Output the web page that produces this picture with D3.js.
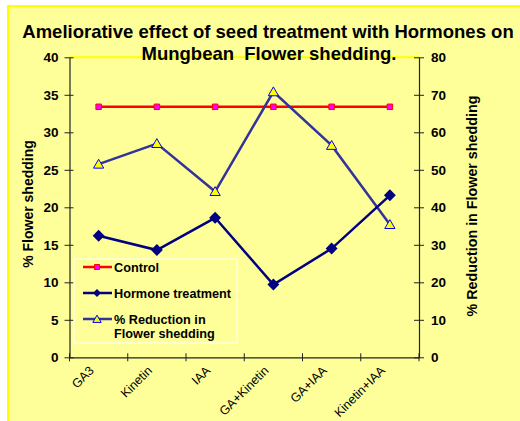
<!DOCTYPE html>
<html>
<head>
<meta charset="utf-8">
<script src="https://cdn.jsdelivr.net/npm/d3@7"></script>
<style>
  body { margin: 0; background: #ffffff; }
  text { font-family: "Liberation Sans", Arial, sans-serif; }
</style>
</head>
<body>
<div id="vis"></div>
<script>
var width = 520;
var height = 421;

// data
var treatments = ['GA3', 'Kinetin', 'IAA', 'GA+Kinetin', 'GA+IAA', 'Kinetin+IAA'];
var control = [33.4, 33.4, 33.4, 33.4, 33.4, 33.4];
var hormone = [16.2, 14.3, 18.6, 9.7, 14.5, 21.6];
var reduction = [51.5, 57.0, 44.2, 70.8, 56.5, 35.4];
var leftTicks = [0, 5, 10, 15, 20, 25, 30, 35, 40];
var rightTicks = [0, 10, 20, 30, 40, 50, 60, 70, 80];

var plot = { left: 69.5, right: 419, top: 57.3, bottom: 357.3 };

var svg = d3.select('#vis')
    .append('svg')
    .attr('width', width)
    .attr('height', height);

// chart background
svg.append('rect')
    .attr('x', 8)
    .attr('y', 6)
    .attr('width', width)
    .attr('height', height)
    .attr('fill', '#ffff99')
    .attr('stroke', '#ffff00')
    .attr('stroke-width', 2);

// plot area top border
svg.append('line')
    .attr('x1', plot.left)
    .attr('x2', plot.right)
    .attr('y1', plot.top)
    .attr('y2', plot.top)
    .attr('stroke', '#ffff00')
    .attr('stroke-width', 2);

var x_scale = d3.scaleBand()
    .domain(treatments)
    .range([plot.left, plot.right]);

var y_left = d3.scaleLinear()
    .domain([0, 40])
    .range([plot.bottom, plot.top]);

var y_right = d3.scaleLinear()
    .domain([0, 80])
    .range([plot.bottom, plot.top]);

function cx(d, i) {
    return x_scale(treatments[i]) + x_scale.bandwidth() / 2;
}

// axes
var left_axis = d3.axisLeft(y_left).tickValues(leftTicks).tickSizeInner(4).tickSizeOuter(0).tickPadding(7);
var right_axis = d3.axisRight(y_right).tickValues(rightTicks).tickSizeInner(4).tickSizeOuter(0).tickPadding(8);
var bottom_axis = d3.axisBottom(x_scale).tickValues([]).tickSizeOuter(0);

var gl = svg.append('g')
    .attr('class', 'y axis')
    .attr('transform', 'translate(' + plot.left + ',0)')
    .call(left_axis);

var gr = svg.append('g')
    .attr('class', 'y axis')
    .attr('transform', 'translate(' + plot.right + ',0)')
    .call(right_axis);

var gb = svg.append('g')
    .attr('class', 'x axis')
    .attr('transform', 'translate(0,' + plot.bottom + ')')
    .call(bottom_axis);

// crossing ticks on all axes
gl.selectAll('.tick line').attr('x1', 4).attr('x2', -5);
gr.selectAll('.tick line').attr('x1', -5).attr('x2', 5);

var xTickPos = d3.range(treatments.length + 1).map(function(i) {
    return plot.left + i * x_scale.step();
});
gb.selectAll('.xtick')
    .data(xTickPos)
    .enter()
    .append('line')
    .attr('x1', function(d) { return d; })
    .attr('x2', function(d) { return d; })
    .attr('y1', -4)
    .attr('y2', 4)
    .attr('stroke', '#222');

svg.selectAll('.axis path').attr('stroke', '#222').attr('stroke-width', 1.2);
svg.selectAll('.axis .tick line').attr('stroke', '#222');
svg.selectAll('.y.axis text')
    .attr('font-size', 13.5)
    .attr('font-weight', 'bold')
    .attr('fill', '#000');

// category labels
svg.selectAll('.xlabel')
    .data(treatments)
    .enter()
    .append('text')
    .attr('class', 'xlabel')
    .attr('text-anchor', 'end')
    .attr('font-size', 12.5)
    .attr('transform', function(d, i) {
        return 'translate(' + (cx(d, i) - 4) + ',' + (plot.bottom + 14) + ') rotate(-45)';
    })
    .text(function(d) { return d; });

// titles
svg.append('text')
    .attr('x', 268)
    .attr('y', 38)
    .attr('text-anchor', 'middle')
    .attr('font-size', 18.5)
    .attr('font-weight', 'bold')
    .text('Ameliorative effect of seed treatment with Hormones on');

svg.append('text')
    .attr('x', 269)
    .attr('y', 60)
    .attr('text-anchor', 'middle')
    .attr('font-size', 18.5)
    .attr('font-weight', 'bold')
    .text('Mungbean  Flower shedding.')
    .style('white-space', 'pre');

svg.append('text')
    .attr('text-anchor', 'middle')
    .attr('font-size', 14)
    .attr('font-weight', 'bold')
    .attr('transform', 'translate(33,204) rotate(-90)')
    .text('% Flower shedding');

svg.append('text')
    .attr('text-anchor', 'middle')
    .attr('font-size', 14.3)
    .attr('font-weight', 'bold')
    .attr('transform', 'translate(477,206) rotate(-90)')
    .text('% Reduction in Flower shedding');

// series
var line_left = d3.line()
    .x(cx)
    .y(function(d) { return y_left(d); });

var line_right = d3.line()
    .x(cx)
    .y(function(d) { return y_right(d); });

svg.append('path')
    .datum(control)
    .attr('d', line_left)
    .attr('fill', 'none')
    .attr('stroke', '#ff0000')
    .attr('stroke-width', 2.5);

svg.append('path')
    .datum(reduction)
    .attr('d', line_right)
    .attr('fill', 'none')
    .attr('stroke', '#333399')
    .attr('stroke-width', 2.5);

svg.append('path')
    .datum(hormone)
    .attr('d', line_left)
    .attr('fill', 'none')
    .attr('stroke', '#000080')
    .attr('stroke-width', 2.5);

var square = d3.symbol().type(d3.symbolSquare).size(30);
var diamond = d3.symbol().type(d3.symbolDiamond2).size(90);
var triangle = d3.symbol().type(d3.symbolTriangle2).size(75);

svg.selectAll('.ctrl')
    .data(control)
    .enter()
    .append('path')
    .attr('class', 'ctrl')
    .attr('d', square)
    .attr('transform', function(d, i) { return 'translate(' + cx(d, i) + ',' + y_left(d) + ')'; })
    .attr('fill', '#ff00ff')
    .attr('stroke', '#ff0000')
    .attr('stroke-width', 1);

svg.selectAll('.horm')
    .data(hormone)
    .enter()
    .append('path')
    .attr('class', 'horm')
    .attr('d', diamond)
    .attr('transform', function(d, i) { return 'translate(' + cx(d, i) + ',' + y_left(d) + ')'; })
    .attr('fill', '#000080');

svg.selectAll('.red')
    .data(reduction)
    .enter()
    .append('path')
    .attr('class', 'red')
    .attr('d', triangle)
    .attr('transform', function(d, i) { return 'translate(' + cx(d, i) + ',' + (y_right(d) + 1) + ')'; })
    .attr('fill', '#ffff00')
    .attr('stroke', '#0000ff')
    .attr('stroke-width', 1);

// legend
var legend = svg.append('g');

legend.append('rect')
    .attr('x', 74)
    .attr('y', 259)
    .attr('width', 163)
    .attr('height', 84)
    .attr('fill', 'none')
    .attr('stroke', '#ffffff')
    .attr('stroke-width', 1);

var legendItems = [
    { name: 'Control', color: '#ff0000', y: 267 },
    { name: 'Hormone treatment', color: '#000080', y: 293 },
    { name: '% Reduction in', color: '#333399', y: 319 }
];

legend.selectAll('.lline')
    .data(legendItems)
    .enter()
    .append('line')
    .attr('x1', 83)
    .attr('x2', 112)
    .attr('y1', function(d) { return d.y; })
    .attr('y2', function(d) { return d.y; })
    .attr('stroke', function(d) { return d.color; })
    .attr('stroke-width', 2.5);

legend.append('path')
    .attr('d', d3.symbol().type(d3.symbolSquare).size(25))
    .attr('transform', 'translate(97,' + legendItems[0].y + ')')
    .attr('fill', '#ff00ff')
    .attr('stroke', '#ff0000');

legend.append('path')
    .attr('d', d3.symbol().type(d3.symbolDiamond2).size(40))
    .attr('transform', 'translate(97,' + legendItems[1].y + ')')
    .attr('fill', '#000080');

legend.append('path')
    .attr('d', d3.symbol().type(d3.symbolTriangle2).size(50))
    .attr('transform', 'translate(97,' + (legendItems[2].y + 1) + ')')
    .attr('fill', '#ffff00')
    .attr('stroke', '#0000ff');

legend.selectAll('.ltext')
    .data(legendItems)
    .enter()
    .append('text')
    .attr('x', 114)
    .attr('y', function(d) { return d.y + 4.5; })
    .attr('font-size', 12.7)
    .attr('font-weight', 'bold')
    .text(function(d) { return d.name; });

legend.append('text')
    .attr('x', 114)
    .attr('y', 338)
    .attr('font-size', 12.7)
    .attr('font-weight', 'bold')
    .text('Flower shedding');
</script>
</body>
</html>
